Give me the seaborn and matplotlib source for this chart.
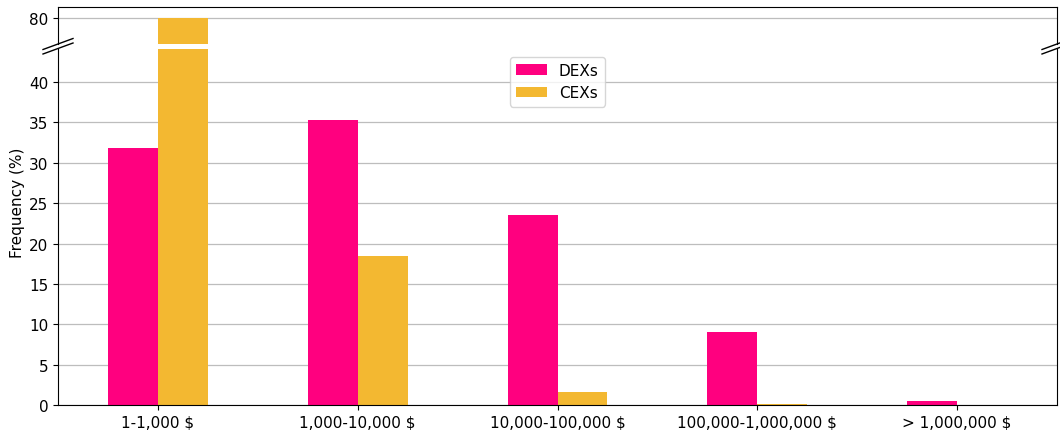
import matplotlib
matplotlib.use("Agg")
import matplotlib.pyplot as plt
import seaborn as sns
import pandas as pd
from matplotlib.lines import Line2D

categories = ["1-1,000 $", "1,000-10,000 $", "10,000-100,000 $", "100,000-1,000,000 $", "> 1,000,000 $"]
dex_values = [31.8, 35.3, 23.5, 9.1, 0.5]
cex_values = [80.0, 18.5, 1.6, 0.1, 0.05]
series_names = ["DEXs", "CEXs"]
colors = ["#FF007F", "#F3B831"]

df = pd.DataFrame({
    "range": categories * 2,
    "freq": dex_values + cex_values,
    "type": [series_names[0]] * len(categories) + [series_names[1]] * len(categories),
})

plt.rcParams["font.family"] = ["DejaVu Sans"]
plt.rcParams["font.size"] = 11

W, H = 1060, 431
fig = plt.figure(figsize=(W / 100, H / 100), dpi=100)

left = 58 / W
right = 1057 / W
ax_top = fig.add_axes([left, 1 - 45 / H, right - left, (45 - 8) / H])
ax_bot = fig.add_axes([left, 1 - 406 / H, right - left, (406 - 50) / H])

palette = dict(zip(series_names, colors))
for ax in (ax_top, ax_bot):
    sns.barplot(data=df, x="range", y="freq", hue="type", hue_order=series_names,
                palette=palette, width=0.5, saturation=1, linewidth=0, ax=ax,
                legend=(ax is ax_bot))
    ax.set_axisbelow(True)
    ax.yaxis.grid(True, color="#bdbdbd", linewidth=0.9)
    ax.set_xlim(-0.5, 4.5)
    ax.set_xlabel("")
    ax.set_ylabel("")
    ax.tick_params(labelsize=11)

ax_top.set_ylim(76.8, 81.35)
ax_top.set_yticks([80])
ax_top.spines["bottom"].set_visible(False)
ax_top.tick_params(axis="x", which="both", bottom=False, labelbottom=False)

ax_bot.set_ylim(0, 44.1)
ax_bot.set_yticks(range(0, 45, 5))
ax_bot.spines["top"].set_visible(False)

leg = ax_bot.legend(loc="upper center", fontsize=11)

fig.text(18 / W, 1 - 203 / H, "Frequency (%)", rotation=90, va="center", ha="center", fontsize=11)

# break marks
for xp in (58, 1057):
    for yc in (45, 49.5):
        x0, x1 = (xp - 15) / W, (xp + 15) / W
        y0, y1 = 1 - (yc + 5.5) / H, 1 - (yc - 5.5) / H
        fig.add_artist(Line2D([x0, x1], [y0, y1], transform=fig.transFigure, color="k", linewidth=1))

fig.savefig("out.png", dpi=100)
